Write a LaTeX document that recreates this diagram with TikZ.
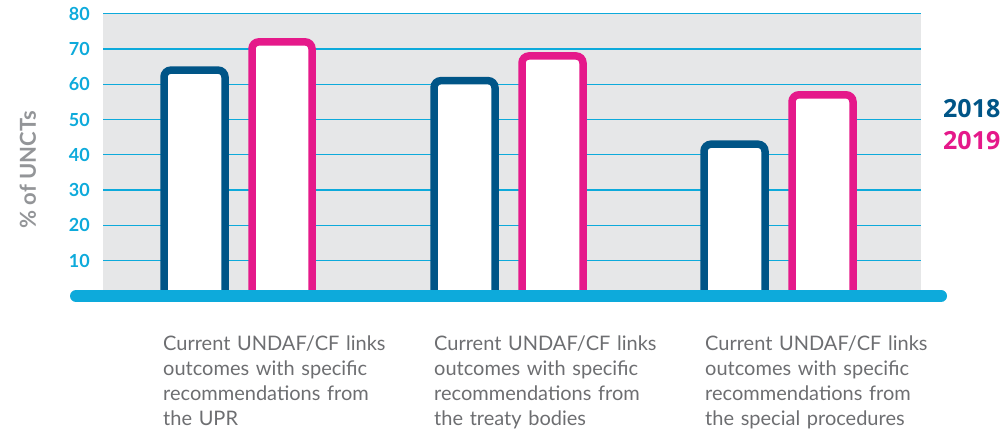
\documentclass[tikz,border=0pt]{standalone}
\usepackage{fontspec}
\setmainfont{Lato}
\newfontfamily\legendfont{Open Sans}
\definecolor{unblue}{RGB}{0, 85, 135}
\definecolor{unpink}{RGB}{229, 25, 138}
\definecolor{uncyan}{RGB}{13, 170, 219}
\definecolor{panelgrey}{RGB}{230, 231, 232}
\definecolor{titlegrey}{RGB}{147, 149, 152}
\definecolor{textgrey}{RGB}{109, 110, 113}
\usetikzlibrary{positioning}
\tikzset{
    gridline/.style={uncyan, line width=1.3pt},
    ticklabel/.style={anchor=east, text=uncyan, font=\fontsize{18}{18}\selectfont\bfseries, inner sep=0pt},
    bareighteen/.style={draw=unblue, fill=white, line width=7.5pt, rounded corners=7pt},
    barnineteen/.style={draw=unpink, fill=white, line width=7.5pt, rounded corners=7pt},
    catlabel/.style={anchor=north west, text=textgrey, text width=250pt, align=left, inner sep=0pt,
                     font=\fontsize{20}{25}\selectfont},
    legendlabel/.style={anchor=west, inner sep=0pt, font=\legendfont\fontsize{25}{25}\selectfont\bfseries},
}

\begin{document}
\begin{tikzpicture}[x=1pt, y=1pt]
    \useasboundingbox (0,0) rectangle (1003,431);

    % Plot panel and grid
    \fill[panelgrey] (103,135) rectangle (921,417.4);
    \foreach \v in {10,20,...,80} {
        \draw[gridline] (103,135+3.53*\v) -- (921,135+3.53*\v);
        \node[ticklabel] (t\v) at (90,135+3.53*\v) {\v};
    }

    % Axis title
    \node[rotate=90, text=titlegrey, font=\fontsize{22}{22}\selectfont\bfseries] (ytitle) at (28,261) {\% of UNCTs};

    % Bars, group 1
    \draw[bareighteen] (164,135) -- (164,135+3.53*64) -- (225,135+3.53*64) -- (225,135);
    \draw[barnineteen] (252,135) -- (252,135+3.53*72) -- (312,135+3.53*72) -- (312,135);

    % Bars, group 2
    \draw[bareighteen] (434,135) -- (434,135+3.53*61) -- (495,135+3.53*61) -- (495,135);
    \draw[barnineteen] (522,135) -- (522,135+3.53*68) -- (583,135+3.53*68) -- (583,135);

    % Bars, group 3
    \draw[bareighteen] (704,135) -- (704,135+3.53*43) -- (765,135+3.53*43) -- (765,135);
    \draw[barnineteen] (792,135) -- (792,135+3.53*57) -- (853,135+3.53*57) -- (853,135);

    % Base line
    \draw[uncyan, line width=12pt, line cap=round] (76,135) -- (941,135);

    % Legend
    \node[legendlabel, text=unblue] (lg18) at (943,322) {2018};
    \node[legendlabel, text=unpink] (lg19) at (943,290) {2019};

    % Category labels
    \node[catlabel] (cat1) at (163,95) {Current UNDAF/CF links\\outcomes with specific\\recommendations from\\the UPR};
    \node[catlabel] (cat2) at (434,95) {Current UNDAF/CF links\\outcomes with specific\\recommendations from\\the treaty bodies};
    \node[catlabel] (cat3) at (705,95) {Current UNDAF/CF links\\outcomes with specific\\recommendations from\\the special procedures};
\end{tikzpicture}
\end{document}
